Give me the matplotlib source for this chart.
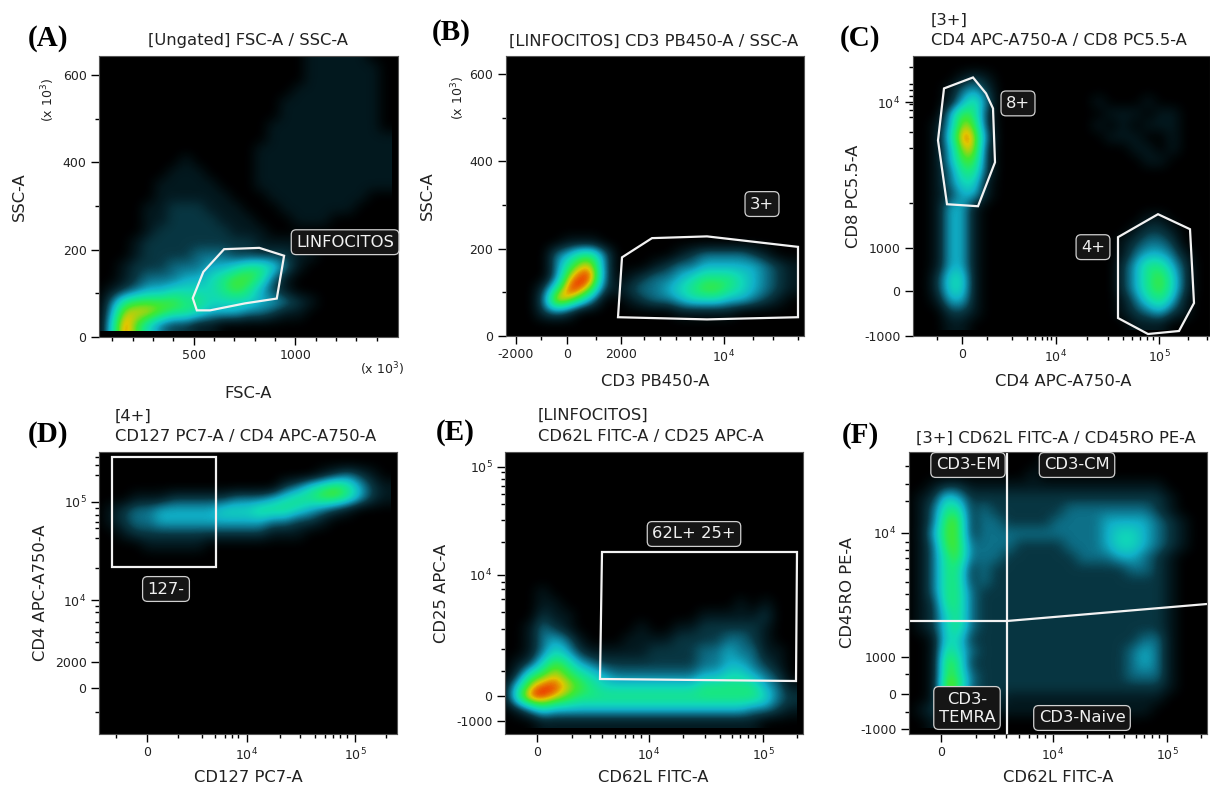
import numpy as np
import matplotlib
matplotlib.use('Agg')
import matplotlib.pyplot as plt
from matplotlib.colors import LinearSegmentedColormap

# density on a coarse 24x24 grid, top row first, 0 (black) to 9 (red)
density_a = ["000000000000000001111100", "000000000000000001111110", "000000000000000001111110",
             "000000000000000011111110", "000000000000000111111110", "000000000000000111111110",
             "000000000000001111111110", "000000000000001111111111", "000000000000011111111111",
             "000000010000011111111111", "000000111000011111111111", "000001111100011111111111",
             "000001111110001111111100", "000011222111000111111000", "000011222211100011100000",
             "000012222221110000000000", "000122222222211110000000", "000122223332222211000000",
             "001222333445665310000000", "001233344567763100000000", "012344555567642100000000",
             "036777766555544321000000", "048887665444332110000000", "059753221100000000000000"]
density_b = ["", "", "", "", "", "", "", "", "", "", "", "", "", "", "", "",
             "000001110", "000034663000001233332100", "000036883000123344444321",
             "000038993012334566654321", "000269972123345677654321", "000398630012334555443210",
             "000232000000001111100000", ""]
density_c = ["", "", "000012100", "000134200", "000146300000000100010000", "000476200000000011101100",
             "001487200000000101011100", "001598300000000011100100", "001488200000000000110100",
             "001477200000000000011000", "001366200", "001355100", "001244100", "001441000",
             "001441000000000000011000", "001441000000000000122100", "001441000000000001233200",
             "001441000000000001344310", "001441000000000002466420", "002551000000000002467520",
             "002551000000000002467520", "001441000000000001356410", "000221000000000001234210",
             "000110000000000000111000"]
density_d = ["", "", "000000000000000000123210", "000000000000000235676421", "000111222223334566776421",
             "012334444455566654321000", "012334444444443322100000", "001222222222221110000000",
             "000011111000000000000000", "", "", "", "", "", "", "", "", "", "", "", "", "", "", ""]
density_e = ["", "", "", "", "", "", "", "", "", "", "", "",
             "000100000000000000000000", "000110000000000000010100", "000211000000000011111200",
             "001321000001001122222100", "001343100011112222332100", "001354211111222233433110",
             "012576432222222233443210", "026787654333333344554320", "158998765555555566666431",
             "169987666666666666666532", "013544444444444444443321", "000111111111111111111000"]
density_f = ["", "000000000001000000000000", "000000000010000000000000", "001221111111111111111000",
             "012542222222222222222100", "013662322222233333332100", "013772332222333344443210",
             "014772333333333345543210", "013773333222233345543210", "013673332222223334432100",
             "013662322222222222332100", "013662322222222222222100", "013663222222222222222100",
             "012663222222222222222100", "012563222222222222222100", "012563222222222222222100",
             "001552222222222222233100", "001653222222222222343100", "001762222222222222343100",
             "001763222222222222333100", "001873222222222222222100", "001642221111111111111000",
             "012211111111111111110000", "001100000000000000000000"]

# gates
gate_a_x = [496, 548, 650, 823, 945, 909, 753, 581, 516]
gate_a_y = [89, 149, 201, 204, 186, 88, 77, 61, 61]
gate_b_x = [116, 146, 201, 292, 292, 201, 112]
gate_b_y = [180, 224, 228, 204, 43, 38, 43]
gate_c8_x = [60, 73, 80, 82, 65, 34, 25, 31]
gate_c8_y = [259, 243, 228, 174, 130, 132, 196, 248]
gate_c4_x = [245, 277, 281, 266, 235, 205, 205]
gate_c4_y = [122, 107, 33, 5, 2, 18, 99]
gate_d_x = [13, 117, 117, 13]
gate_d_y = [167, 167, 277, 277]
gate_e_x = [97, 292, 291, 95]
gate_e_y = [182, 182, 53, 55]

cm = LinearSegmentedColormap.from_list('flow', ['#000000', '#03191f', '#083642', '#0d7088', '#10b0c8',
                                                '#10d8b8', '#18e880', '#40e830', '#e0c800', '#f02000'])
W, H = 1210, 787
fig = plt.figure(figsize=(W / 100, H / 100), dpi=100)
TXT = '#222222'
FS = 11.8


def ptext(x, y, s, **kw):
    kw.setdefault('color', TXT)
    kw.setdefault('ha', 'center')
    kw.setdefault('va', 'center')
    fig.text(x / W, 1 - y / H, s, **kw)


def panel(box, density, xlim, ylim, xticks, xlabels, xminor, yticks, ylabels, yminor):
    x0, y0, x1, y1 = box
    ax = fig.add_axes([x0 / W, 1 - y1 / H, (x1 - x0) / W, (y1 - y0) / H], facecolor='black')
    grid = np.array([[int(c) for c in r.ljust(24, '0')] for r in density], dtype=float)
    # grid values sit on the cell corners, so the image is moved half a cell
    dx = (xlim[1] - xlim[0]) / 24
    dy = (ylim[1] - ylim[0]) / 24
    ax.imshow(grid, cmap=cm, vmin=0, vmax=9, aspect='auto', interpolation='bicubic', interpolation_stage='data',
              extent=[xlim[0] - dx / 2, xlim[1] - dx / 2, ylim[0] + dy / 2, ylim[1] + dy / 2])
    ax.set_xlim(xlim)
    ax.set_ylim(ylim)
    ax.set_xticks(xticks, xlabels)
    ax.set_yticks(yticks, ylabels)
    ax.set_xticks(xminor, minor=True)
    ax.set_yticks(yminor, minor=True)
    ax.tick_params(which='major', length=6, width=1, labelsize=9, labelcolor=TXT, pad=3)
    ax.tick_params(which='minor', length=3, width=1)
    for s in ax.spines.values():
        s.set_color('#555555')
        s.set_linewidth(0.8)
    return ax


def gate(ax, xs, ys):
    ax.fill(xs, ys, fill=False, ec='#f2f2f2', lw=1.6)


def tag(ax, x, y, s):
    ax.text(x, y, s, color='#f0f0f0', fontsize=11.8, ha='center', va='center', linespacing=1.25,
            bbox=dict(boxstyle='round,pad=0.3', fc='#151515', ec='#d0d0d0', lw=0.9))


ssc_ticks = [0, 200, 400, 600]
ssc_labels = ['0', '200', '400', '600']
ssc_minor = [100, 300, 500]

ax = panel((99, 56.5, 398, 337), density_a, (35, 1505), (0, 642),
           [500, 1000], ['500', '1000'], [100, 200, 300, 400, 600, 700, 800, 900, 1100, 1200, 1300, 1400],
           ssc_ticks, ssc_labels, ssc_minor)
gate(ax, gate_a_x, gate_a_y)
tag(ax, 1245, 217, 'LINFOCITOS')

ax = panel((506, 55.5, 804, 336), density_b, (0, 298), (0, 642),
           [10, 61, 115, 218], ['-2000', '0', '2000', '$10^4$'], [35, 90, 138, 154, 170, 184, 196, 207, 247, 267, 292],
           ssc_ticks, ssc_labels, ssc_minor)
gate(ax, gate_b_x, gate_b_y)
tag(ax, 256, 302, '3+')

ax = panel((913, 55.5, 1210, 336), density_c, (0, 297), (0, 281),
           [49, 143, 246], ['0', '$10^4$', '$10^5$'],
           [24, 74, 99, 114, 122, 129, 134, 138, 174, 195, 210, 219, 227, 234, 240, 275, 294],
           [0, 45, 88, 234], ['-1000', '0', '1000', '$10^4$'],
           [133, 188, 204, 219, 226, 232, 240, 246, 252, 269])
gate(ax, gate_c8_x, gate_c8_y)
gate(ax, gate_c4_x, gate_c4_y)
tag(ax, 105, 233, '8+')
tag(ax, 180, 89, '4+')

ax = panel((99, 452, 397, 734), density_d, (0, 298), (0, 282),
           [48, 148, 256], ['0', '$10^4$', '$10^5$'],
           [17, 79, 103, 116, 126, 133, 139, 181, 201, 216, 226, 234, 241, 248, 287],
           [46, 72, 134, 232], ['0', '2000', '$10^4$', '$10^5$'],
           [22, 92, 102, 112, 122, 128, 166, 196, 206, 212, 219, 226, 259, 269, 277])
gate(ax, gate_d_x, gate_d_y)
tag(ax, 67, 145, '127-')

ax = panel((505, 452, 803, 734), density_e, (0, 298), (0, 282),
           [32, 144, 258], ['0', '$10^4$', '$10^5$'],
           [67, 85, 97, 110, 120, 128, 136, 178, 200, 215, 227, 235, 243, 250, 292],
           [13, 38, 159, 267], ['-1000', '0', '$10^4$', '$10^5$'],
           [63, 85, 105, 122, 135, 145, 152, 192, 214, 230, 240, 248, 255, 262])
gate(ax, gate_e_x, gate_e_y)
tag(ax, 189, 200, '62L+ 25+')

ax = panel((909, 452, 1207, 734), density_f, (0, 298), (0, 282),
           [32, 144, 258], ['0', '$10^4$', '$10^5$'],
           [67, 85, 97, 110, 120, 128, 136, 178, 200, 215, 227, 235, 243, 250, 292],
           [5, 40, 77, 201], ['-1000', '0', '1000', '$10^4$'],
           [22, 60, 105, 125, 140, 152, 165, 176, 184, 192, 233, 250, 268])
ax.plot([98, 98], [0, 282], color='#f2f2f2', lw=1.6)
ax.plot([0, 98, 298], [113, 113, 130], color='#f2f2f2', lw=1.6)
tag(ax, 59, 269, 'CD3-EM')
tag(ax, 168, 269, 'CD3-CM')
tag(ax, 58, 26, 'CD3-\nTEMRA')
tag(ax, 173, 16, 'CD3-Naive')

# titles
ptext(248, 41, '[Ungated] FSC-A / SSC-A', fontsize=FS)
ptext(509, 41, '[LINFOCITOS] CD3 PB450-A / SSC-A', fontsize=FS, ha='left')
ptext(931, 20, '[3+]', fontsize=FS, ha='left')
ptext(931, 40, 'CD4 APC-A750-A / CD8 PC5.5-A', fontsize=FS, ha='left')
ptext(115, 416, '[4+]', fontsize=FS, ha='left')
ptext(115, 436, 'CD127 PC7-A / CD4 APC-A750-A', fontsize=FS, ha='left')
ptext(538, 415, '[LINFOCITOS]', fontsize=FS, ha='left')
ptext(538, 437, 'CD62L FITC-A / CD25 APC-A', fontsize=FS, ha='left')
ptext(916, 438, '[3+] CD62L FITC-A / CD45RO PE-A', fontsize=FS, ha='left')

# axis labels
for x, y, s in [(248, 394, 'FSC-A'), (655, 381, 'CD3 PB450-A'), (1063, 381, 'CD4 APC-A750-A'),
                (248, 778, 'CD127 PC7-A'), (653, 778, 'CD62L FITC-A'), (1058, 778, 'CD62L FITC-A')]:
    ptext(x, y, s, fontsize=FS)
for x, y, s in [(19, 197, 'SSC-A'), (427, 196, 'SSC-A'), (853, 196, 'CD8 PC5.5-A'),
                (41, 593, 'CD4 APC-A750-A'), (442, 593, 'CD25 APC-A'), (848, 593, 'CD45RO PE-A')]:
    ptext(x, y, s, fontsize=FS, rotation=90)

# scale notes
ptext(382, 369, r'(x $10^3$)', fontsize=9)
ptext(48, 100, r'(x $10^3$)', fontsize=9, rotation=90)
ptext(458, 98, r'(x $10^3$)', fontsize=9, rotation=90)

# panel letters
for x, y, s in [(48, 38, '(A)'), (451, 32, '(B)'), (860, 38, '(C)'), (48, 434, '(D)'), (455, 433, '(E)'), (860, 435, '(F)')]:
    ptext(x, y, s, fontsize=21, fontweight='bold', family='Liberation Serif', color='black')

fig.savefig('out.png', dpi=100)
